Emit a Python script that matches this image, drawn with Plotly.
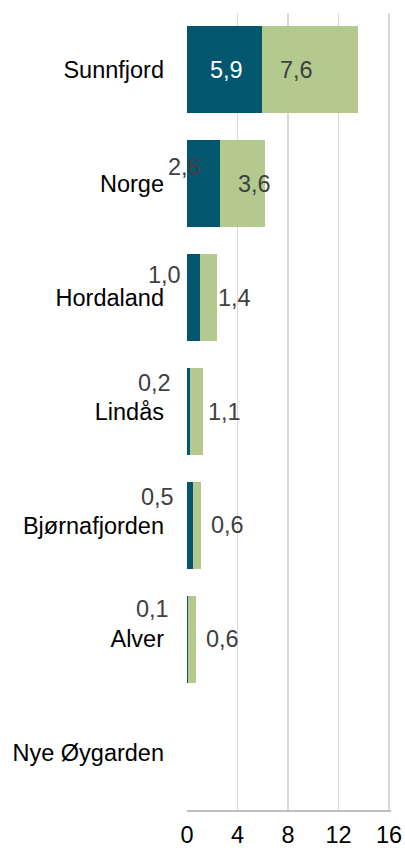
import plotly.graph_objects as go

categories = ["Sunnfjord", "Norge", "Hordaland", "Lindås", "Bjørnafjorden", "Alver", "Nye Øygarden"]
series_a = [5.9, 2.6, 1.0, 0.2, 0.5, 0.1, None]
series_b = [7.6, 3.6, 1.4, 1.1, 0.6, 0.6, None]
x_ticks = [0, 4, 8, 12, 16]

DARK = "#02566E"
GREEN = "#B3C98D"
LABEL = "#404040"
FONT = "Liberation Sans, Arial, sans-serif"
FS = 23.5

def fmt(v):
    return f"{v:.1f}".replace(".", ",")

fig = go.Figure()
fig.add_trace(go.Bar(y=categories, x=series_a, orientation="h", marker=dict(color=DARK, line=dict(width=0)),
                     hoverinfo="skip", showlegend=False))
fig.add_trace(go.Bar(y=categories, x=series_b, orientation="h", marker=dict(color=GREEN, line=dict(width=0)),
                     hoverinfo="skip", showlegend=False))

# label vertical offsets for the dark-series labels (px, placement style)
dark_yshift = {"Sunnfjord": 0, "Norge": 17, "Hordaland": 23, "Lindås": 29, "Bjørnafjorden": 28, "Alver": 30}

for c, a, b in zip(categories, series_a, series_b):
    if a is None:
        continue
    inside = c == "Sunnfjord"
    fig.add_annotation(x=a, y=c, xref="x", yref="y", text=fmt(a), showarrow=False,
                       xanchor="right", yanchor="middle", xshift=-17, yshift=dark_yshift[c],
                       font=dict(family=FONT, size=FS, color="white" if inside else LABEL))
    fig.add_annotation(x=a, y=c, xref="x", yref="y", text=fmt(b), showarrow=False,
                       xanchor="left", yanchor="middle", xshift=16, yshift=0,
                       font=dict(family=FONT, size=FS, color=LABEL))

fig.update_layout(
    barmode="stack",
    bargap=0.235,
    width=405, height=850,
    margin=dict(l=187, r=14, t=13, b=40, autoexpand=False),
    paper_bgcolor="white", plot_bgcolor="white",
    font=dict(family=FONT, size=FS, color="black"),
)
fig.update_xaxes(range=[0, 16.15], tickvals=x_ticks, ticktext=[str(t) for t in x_ticks],
                 showgrid=True, gridcolor="#D9D9D9", gridwidth=1.5,
                 zeroline=False, showline=True, linecolor="#BFBFBF", linewidth=2,
                 ticks="", ticklabelstandoff=3, fixedrange=True, automargin=False,
                 tickfont=dict(family=FONT, size=FS, color="black"))
fig.update_yaxes(autorange="reversed", showgrid=False, zeroline=False, showline=False,
                 ticks="", ticklabelstandoff=22, fixedrange=True, automargin=False,
                 tickfont=dict(family=FONT, size=FS, color="black"))

fig.write_html(
    "out.html",
    config={"displayModeBar": False, "staticPlot": True},
    default_width="405px",
    default_height="850px",
    post_script="document.body.style.margin='0';document.documentElement.style.overflow='hidden';",
)
